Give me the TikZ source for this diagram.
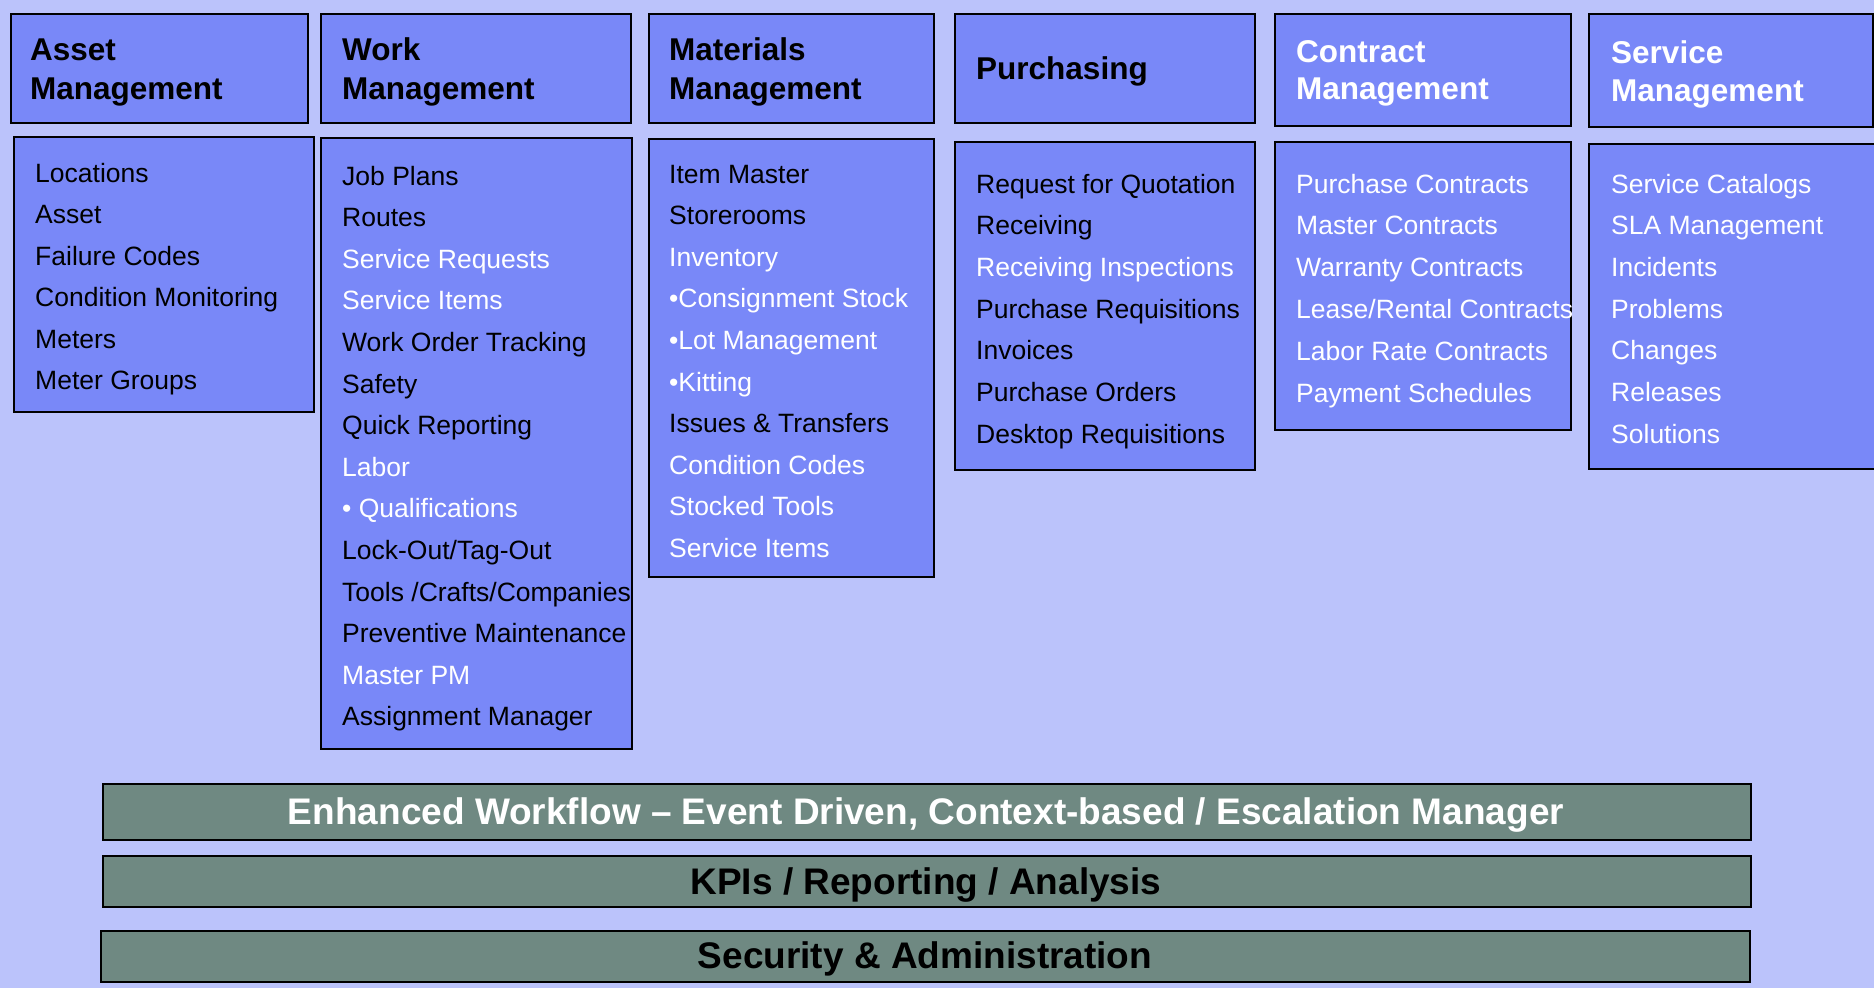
\documentclass[tikz,border=0pt]{standalone}
\usepackage{fontspec}
\setmainfont{Liberation Sans}
\definecolor{bg}{RGB}{187,195,251}
\definecolor{boxfill}{RGB}{121,136,248}
\definecolor{barfill}{RGB}{111,137,130}
\begin{document}
\begin{tikzpicture}[x=1pt,y=-1pt,
  panel/.style={draw=black, line width=2.2pt, fill=boxfill, inner sep=0pt, anchor=north west},
  bar/.style={draw=black, line width=2.2pt, fill=barfill, inner sep=0pt, anchor=north west},
  head/.style={anchor=base west, inner sep=0pt, font=\fontsize{31.5}{36}\selectfont\bfseries},
  itm/.style={anchor=base west, inner sep=0pt, font=\fontsize{26.5}{32}\selectfont},
  bartext/.style={anchor=base, inner sep=0pt, font=\fontsize{37}{42}\selectfont\bfseries},
]
\fill[bg] (0,0) rectangle (1874,988);
\useasboundingbox (0,0) rectangle (1874,988);

% header boxes
\node[panel, minimum width=297pt, minimum height=109pt] (assetH) at (10,13) {};
\node[panel, minimum width=310pt, minimum height=109pt] (workH) at (320,13) {};
\node[panel, minimum width=285pt, minimum height=109pt] (matH) at (648,13) {};
\node[panel, minimum width=300pt, minimum height=109pt] (purH) at (954,13) {};
\node[panel, minimum width=296pt, minimum height=112pt] (conH) at (1274,13) {};
\node[panel, minimum width=284pt, minimum height=113pt] (serH) at (1588,13) {};

% body boxes
\node[panel, minimum width=300pt, minimum height=275pt] (assetB) at (13,136) {};
\node[panel, minimum width=311pt, minimum height=611pt] (workB) at (320,137) {};
\node[panel, minimum width=285pt, minimum height=438pt] (matB) at (648,138) {};
\node[panel, minimum width=300pt, minimum height=328pt] (purB) at (954,141) {};
\node[panel, minimum width=296pt, minimum height=288pt] (conB) at (1274,141) {};
\node[panel, minimum width=290pt, minimum height=325pt] (serB) at (1588,143) {};

% bars
\node[bar, minimum width=1648pt, minimum height=56pt] (wfB) at (102,783) {};
\node[bar, minimum width=1648pt, minimum height=51pt] (kpiB) at (102,855) {};
\node[bar, minimum width=1649pt, minimum height=51pt] (secB) at (100,930) {};
\node[bartext, text=white] (wfT) at (926,824) {Enhanced Workflow – Event Driven, Context-based / Escalation Manager};
\node[bartext, text=black] (kpiT) at (926,894) {KPIs / Reporting / Analysis};
\node[bartext, text=black] (secT) at (925,968) {Security \& Administration};

% header texts
\node[head] (assetH1) at (30,60) {Asset};
\node[head] (assetH2) at (30,99) {Management};
\node[head] (workH1) at (342,60) {Work};
\node[head] (workH2) at (342,99) {Management};
\node[head] (matH1) at (669,60) {Materials};
\node[head] (matH2) at (669,99) {Management};
\node[head] (purH1) at (976,79) {Purchasing};
\node[head, text=white] (conH1) at (1296,62) {Contract};
\node[head, text=white] (conH2) at (1296,99) {Management};
\node[head, text=white] (serH1) at (1611,63) {Service};
\node[head, text=white] (serH2) at (1611,101) {Management};

% item lists
\foreach [count=\i] \c/\t in {black/Locations, black/Asset, black/Failure Codes,
  black/Condition Monitoring, black/Meters, black/Meter Groups}
  \node[itm, text=\c] (asset\i) at (35,182+41.5*\i-41.5) {\t};

\foreach [count=\i] \c/\t in {black/Job Plans, black/Routes, white/Service Requests,
  white/Service Items, black/Work Order Tracking, black/Safety, black/Quick Reporting,
  white/Labor, white/{\textbullet\ Qualifications}, black/{Lock-Out/Tag-Out},
  black/{Tools /Crafts/Companies}, black/Preventive Maintenance, white/Master PM,
  black/Assignment Manager}
  \node[itm, text=\c] (work\i) at (342,185+41.6*\i-41.6) {\t};

\foreach [count=\i] \c/\t in {black/Item Master, black/Storerooms, white/Inventory,
  white/{\textbullet Consignment Stock}, white/{\textbullet Lot Management},
  white/{\textbullet Kitting}, black/{Issues \& Transfers}, white/Condition Codes,
  white/Stocked Tools, white/Service Items}
  \node[itm, text=\c] (mat\i) at (669,183+41.6*\i-41.6) {\t};

\foreach [count=\i] \c/\t in {black/Request for Quotation, black/Receiving,
  white/Receiving Inspections, black/Purchase Requisitions, black/Invoices,
  black/Purchase Orders, black/Desktop Requisitions}
  \node[itm, text=\c] (pur\i) at (976,193+41.7*\i-41.7) {\t};

\foreach [count=\i] \t in {Purchase Contracts, Master Contracts, Warranty Contracts,
  {Lease/Rental Contracts}, Labor Rate Contracts, Payment Schedules}
  \node[itm, text=white] (con\i) at (1296,193+41.8*\i-41.8) {\t};

\foreach [count=\i] \t in {Service Catalogs, SLA Management, Incidents, Problems,
  Changes, Releases, Solutions}
  \node[itm, text=white] (ser\i) at (1611,193+41.7*\i-41.7) {\t};
\end{tikzpicture}
\end{document}
